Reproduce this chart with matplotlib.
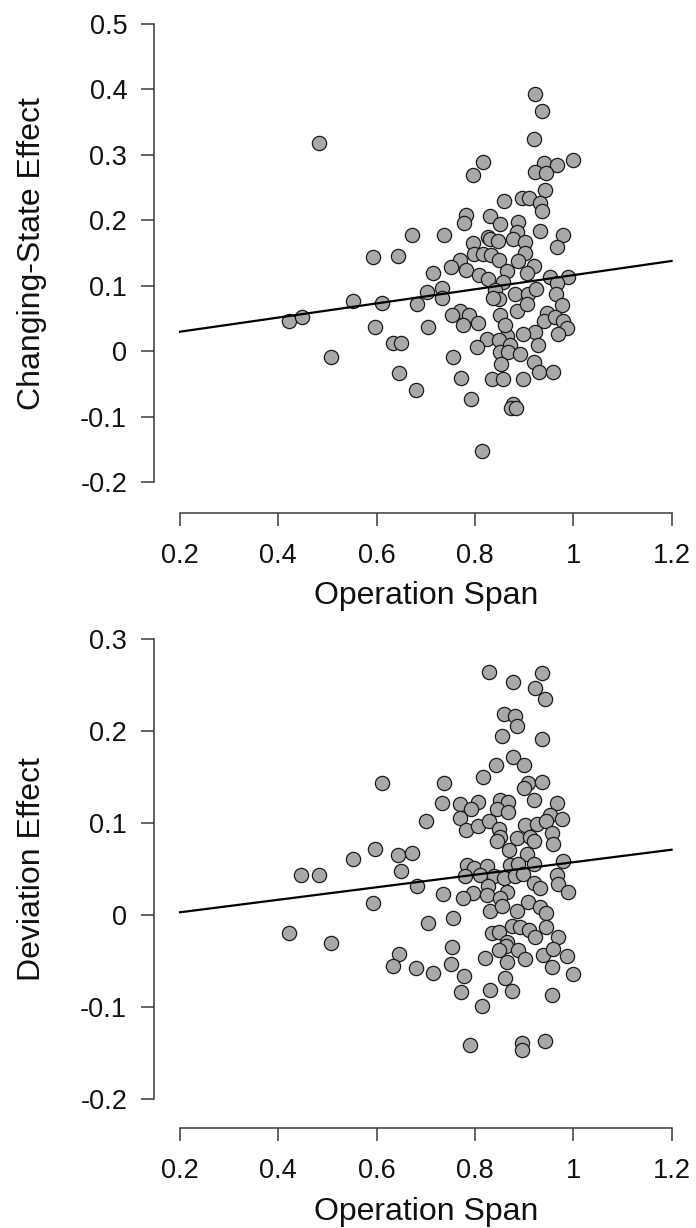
import matplotlib
matplotlib.use("Agg")
import matplotlib.pyplot as plt
import matplotlib.transforms as mtransforms

plt.rcParams['font.family'] = ['Liberation Sans', 'DejaVu Sans']

# ---------------- data ----------------
# Panel 1: Operation Span vs Changing-State Effect
span_cs = [0.483, 0.922, 0.937, 0.920, 0.816, 0.796, 0.941, 0.968, 1.000, 0.922,
           0.944, 0.943, 0.859, 0.896, 0.911, 0.933, 0.936, 0.782, 0.778, 0.830,
           0.852, 0.888, 0.885, 0.933, 0.979, 0.968, 0.671, 0.738, 0.592, 0.644,
           0.826, 0.831, 0.797, 0.846, 0.877, 0.902, 0.902, 0.799, 0.817, 0.832,
           0.770, 0.751, 0.782, 0.848, 0.887, 0.921, 0.865, 0.905, 0.714, 0.809,
           0.827, 0.953, 0.989, 0.966, 0.858, 0.734, 0.702, 0.734, 0.682, 0.551,
           0.610, 0.422, 0.448, 0.965, 0.977, 0.841, 0.850, 0.882, 0.907, 0.924,
           0.770, 0.753, 0.787, 0.776, 0.807, 0.851, 0.886, 0.906, 0.946, 0.941,
           0.963, 0.980, 0.987, 0.970, 0.922, 0.898, 0.865, 0.862, 0.824, 0.805,
           0.848, 0.871, 0.929, 0.597, 0.704, 0.634, 0.649, 0.837,
           0.507, 0.851, 0.868, 0.892, 0.853, 0.756, 0.921, 0.931, 0.958, 0.771,
           0.834, 0.857, 0.897, 0.792, 0.877, 0.873, 0.884, 0.815, 0.646, 0.680]
cs_effect = [0.319, 0.393, 0.367, 0.325, 0.289, 0.269, 0.287, 0.284, 0.292, 0.274,
             0.273, 0.247, 0.229, 0.235, 0.235, 0.227, 0.214, 0.208, 0.196, 0.207,
             0.194, 0.197, 0.183, 0.184, 0.178, 0.159, 0.178, 0.177, 0.144, 0.145,
             0.175, 0.172, 0.166, 0.168, 0.172, 0.167, 0.150, 0.149, 0.148, 0.147,
             0.139, 0.129, 0.125, 0.139, 0.138, 0.131, 0.122, 0.119, 0.119, 0.116,
             0.110, 0.113, 0.114, 0.104, 0.106, 0.097, 0.090, 0.082, 0.073, 0.077,
             0.074, 0.047, 0.052, 0.087, 0.071, 0.094, 0.080, 0.087, 0.087, 0.095,
             0.062, 0.055, 0.055, 0.040, 0.044, 0.056, 0.061, 0.072, 0.058, 0.047,
             0.052, 0.046, 0.035, 0.027, 0.030, 0.027, 0.024, 0.040, 0.019, 0.007,
             0.017, 0.009, 0.010, 0.037, 0.037, 0.013, 0.013, 0.082,
             -0.009, -0.001, -0.001, -0.004, -0.019, -0.008, -0.016, -0.032, -0.031, -0.040,
             -0.043, -0.043, -0.042, -0.073, -0.080, -0.086, -0.086, -0.152, -0.033, -0.059]
cs_fit_x = [0.2, 1.2]
cs_fit_y = [0.030, 0.138]

# Panel 2: Operation Span vs Deviation Effect
span_dev = [0.829, 0.878, 0.937, 0.922, 0.943, 0.859, 0.882, 0.885, 0.855, 0.937,
            0.878, 0.900, 0.842, 0.816, 0.907, 0.900, 0.936, 0.610, 0.738, 0.734,
            0.770, 0.807, 0.793, 0.851, 0.868, 0.844, 0.867, 0.920, 0.966, 0.953,
            0.977, 0.770, 0.700, 0.782, 0.807, 0.829, 0.848, 0.902, 0.927, 0.945,
            0.851, 0.844, 0.885, 0.912, 0.920, 0.956, 0.958, 0.870, 0.905, 0.597,
            0.551, 0.644, 0.672, 0.650, 0.446, 0.483, 0.783, 0.799, 0.824, 0.871,
            0.888, 0.920, 0.979, 0.966, 0.780, 0.810, 0.839, 0.859, 0.882, 0.897,
            0.970, 0.990, 0.921, 0.932, 0.827, 0.797, 0.824, 0.865, 0.851, 0.776,
            0.736, 0.907, 0.831, 0.885, 0.932, 0.945, 0.756, 0.856, 0.682, 0.592,
            0.422, 0.507, 0.704, 0.834, 0.850, 0.875, 0.891, 0.911, 0.922, 0.944,
            0.969, 0.865, 0.863, 0.848, 0.887, 0.754, 0.821, 0.865, 0.902, 0.939,
            0.958, 0.987, 0.956, 1.000, 0.752, 0.778, 0.861, 0.772, 0.831, 0.875,
            0.957, 0.815, 0.791, 0.896, 0.896, 0.943, 0.646, 0.634, 0.680, 0.714]
dev_effect = [0.264, 0.253, 0.263, 0.247, 0.235, 0.219, 0.216, 0.205, 0.195, 0.191,
              0.172, 0.163, 0.163, 0.150, 0.144, 0.138, 0.145, 0.144, 0.144, 0.122,
              0.121, 0.123, 0.115, 0.125, 0.123, 0.115, 0.112, 0.125, 0.122, 0.109,
              0.104, 0.106, 0.102, 0.092, 0.097, 0.102, 0.094, 0.098, 0.099, 0.102,
              0.085, 0.080, 0.084, 0.085, 0.080, 0.089, 0.077, 0.071, 0.066, 0.072,
              0.061, 0.065, 0.067, 0.048, 0.043, 0.043, 0.054, 0.051, 0.053, 0.054,
              0.056, 0.056, 0.059, 0.043, 0.042, 0.044, 0.042, 0.040, 0.042, 0.045,
              0.034, 0.025, 0.035, 0.029, 0.032, 0.024, 0.022, 0.025, 0.018, 0.019,
              0.023, 0.014, 0.004, 0.004, 0.009, 0.002, -0.003, 0.010, 0.032, 0.013,
              -0.019, -0.030, -0.009, -0.020, -0.018, -0.012, -0.013, -0.016, -0.024, -0.013,
              -0.024, -0.029, -0.034, -0.038, -0.038, -0.035, -0.047, -0.051, -0.048, -0.043,
              -0.037, -0.045, -0.057, -0.064, -0.053, -0.066, -0.068, -0.084, -0.082, -0.083,
              -0.087, -0.099, -0.141, -0.139, -0.147, -0.137, -0.042, -0.055, -0.058, -0.063]
dev_fit_x = [0.2, 1.2]
dev_fit_y = [0.003, 0.071]

x_ticks = [0.2, 0.4, 0.6, 0.8, 1.0, 1.2]
x_ticklabels = ['0.2', '0.4', '0.6', '0.8', '1', '1.2']
cs_yticks = [-0.2, -0.1, 0.0, 0.1, 0.2, 0.3, 0.4, 0.5]
cs_yticklabels = ['-0.2', '-0.1', '0', '0.1', '0.2', '0.3', '0.4', '0.5']
dev_yticks = [-0.2, -0.1, 0.0, 0.1, 0.2, 0.3]
dev_yticklabels = ['-0.2', '-0.1', '0', '0.1', '0.2', '0.3']

# ---------------- figure ----------------
W, H = 696, 1228
fig = plt.figure(figsize=(W / 100, H / 100), dpi=100)

AX_COL = '#3a3a3a'
TICK_FS = 19.5
LABEL_FS = 23


def make_panel(bottom_px, top_px, ylim, yticks, yticklabels, xs, ys, fx, fy,
               ylabel, ylabel_center, xlabel_baseline_px):
    left_px, right_px = 154.3, 696
    ax = fig.add_axes([left_px / W, (H - bottom_px) / H,
                       (right_px - left_px) / W, (bottom_px - top_px) / H])
    ax.set_xlim(0.1477, 1.2498)
    ax.set_ylim(*ylim)
    for s in ('top', 'right'):
        ax.spines[s].set_visible(False)
    for s in ('left', 'bottom'):
        ax.spines[s].set_color(AX_COL)
        ax.spines[s].set_linewidth(1.1)
    ax.spines['left'].set_bounds(yticks[0], yticks[-1])
    ax.spines['bottom'].set_bounds(x_ticks[0], x_ticks[-1])
    ax.set_xticks(x_ticks)
    ax.set_xticklabels(x_ticklabels)
    ax.set_yticks(yticks)
    ax.set_yticklabels(yticklabels)
    ax.tick_params(axis='both', length=9.5, width=1.1, color=AX_COL,
                   labelsize=TICK_FS, labelcolor='#111111')
    ax.tick_params(axis='x', pad=12)
    ax.tick_params(axis='y', pad=10)
    ax.patch.set_visible(False)

    ax.scatter(xs, ys, s=105, facecolor='#a8a8a8', edgecolor='#1a1a1a',
               linewidths=0.9, zorder=3, clip_on=False)
    ax.plot(fx, fy, color='black', lw=1.6, zorder=4)

    trans = mtransforms.blended_transform_factory(fig.transFigure, ax.transData)
    ax.text(32 / W, ylabel_center, ylabel, transform=trans, rotation=90,
            ha='center', va='center', fontsize=LABEL_FS, color='#111111')
    fig.text(426 / W, (H - xlabel_baseline_px) / H, 'Operation Span',
             ha='center', va='baseline', fontsize=LABEL_FS, color='#111111')
    return ax


make_panel(513.3, 0, (-0.2474, 0.5367), cs_yticks, cs_yticklabels,
           span_cs, cs_effect, cs_fit_x, cs_fit_y,
           'Changing-State Effect', 0.15, 604)
make_panel(1128.3, 620, (-0.2318, 0.3207), dev_yticks, dev_yticklabels,
           span_dev, dev_effect, dev_fit_x, dev_fit_y,
           'Deviation Effect', 0.05, 1220)

fig.savefig('out.png', dpi=100)
